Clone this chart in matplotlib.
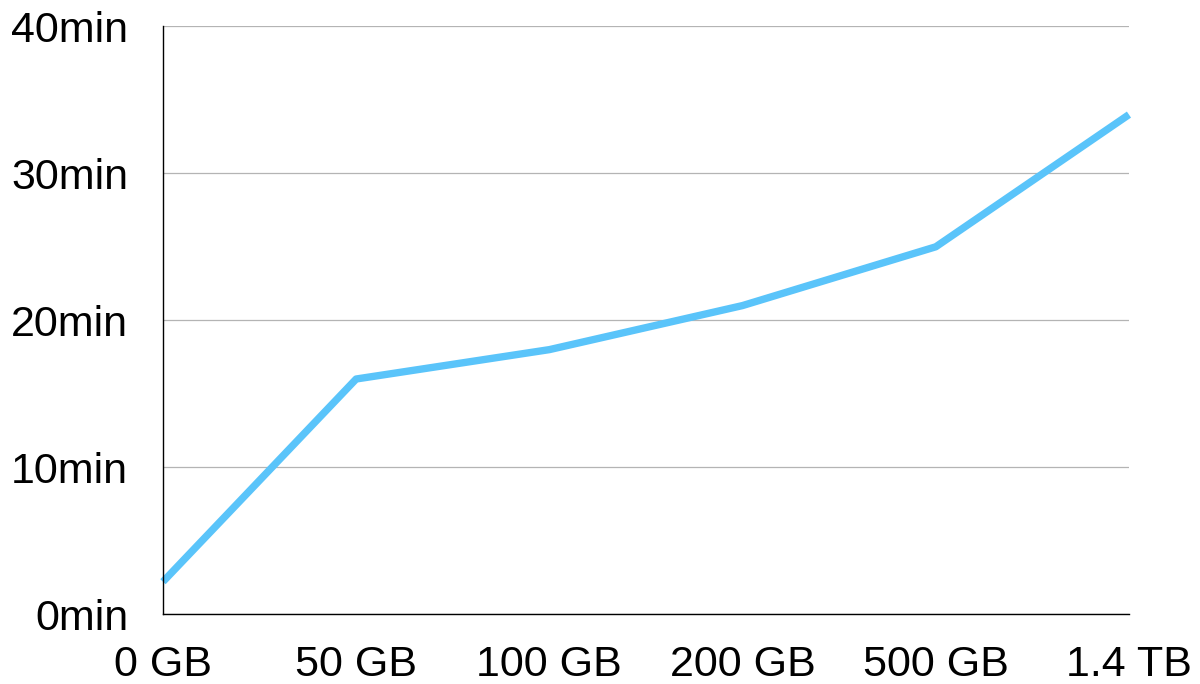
import matplotlib
matplotlib.use("Agg")
import matplotlib.pyplot as plt
import numpy as np

sizes = ["0 GB", "50 GB", "100 GB", "200 GB", "500 GB", "1.4 TB"]
minutes = [2.2, 16, 18, 21, 25, 34]
y_ticks = [0, 10, 20, 30, 40]
y_labels = [f"{v}min" for v in y_ticks]

plt.rcParams["font.family"] = ["Liberation Sans", "DejaVu Sans"]

fig = plt.figure(figsize=(12, 6.84), dpi=100)
ax = fig.add_axes([0.1358, 0.1023, 0.9408 - 0.1358, 0.9613 - 0.1023])

x = np.arange(len(sizes))
ax.plot(x, minutes, color="#5AC4FA", linewidth=5.3, solid_capstyle="butt",
        solid_joinstyle="round", clip_on=False, zorder=3)

ax.set_xlim(0, len(sizes) - 1)
ax.set_ylim(0, 40)
ax.set_xticks(x)
ax.set_xticklabels(sizes)
ax.set_yticks(y_ticks)
ax.set_yticklabels(y_labels)
ax.tick_params(axis="both", length=0, labelsize=31)
ax.tick_params(axis="y", pad=25)
ax.tick_params(axis="x", pad=22.5)

ax.grid(axis="y", color="#b4b4b4", linewidth=0.9)
ax.grid(axis="x", visible=False)
for side in ("top", "right"):
    ax.spines[side].set_visible(False)
for side in ("left", "bottom"):
    ax.spines[side].set_color("black")
    ax.spines[side].set_linewidth(1.0)
    ax.spines[side].set_zorder(4)

fig.savefig("out.png", dpi=100)
